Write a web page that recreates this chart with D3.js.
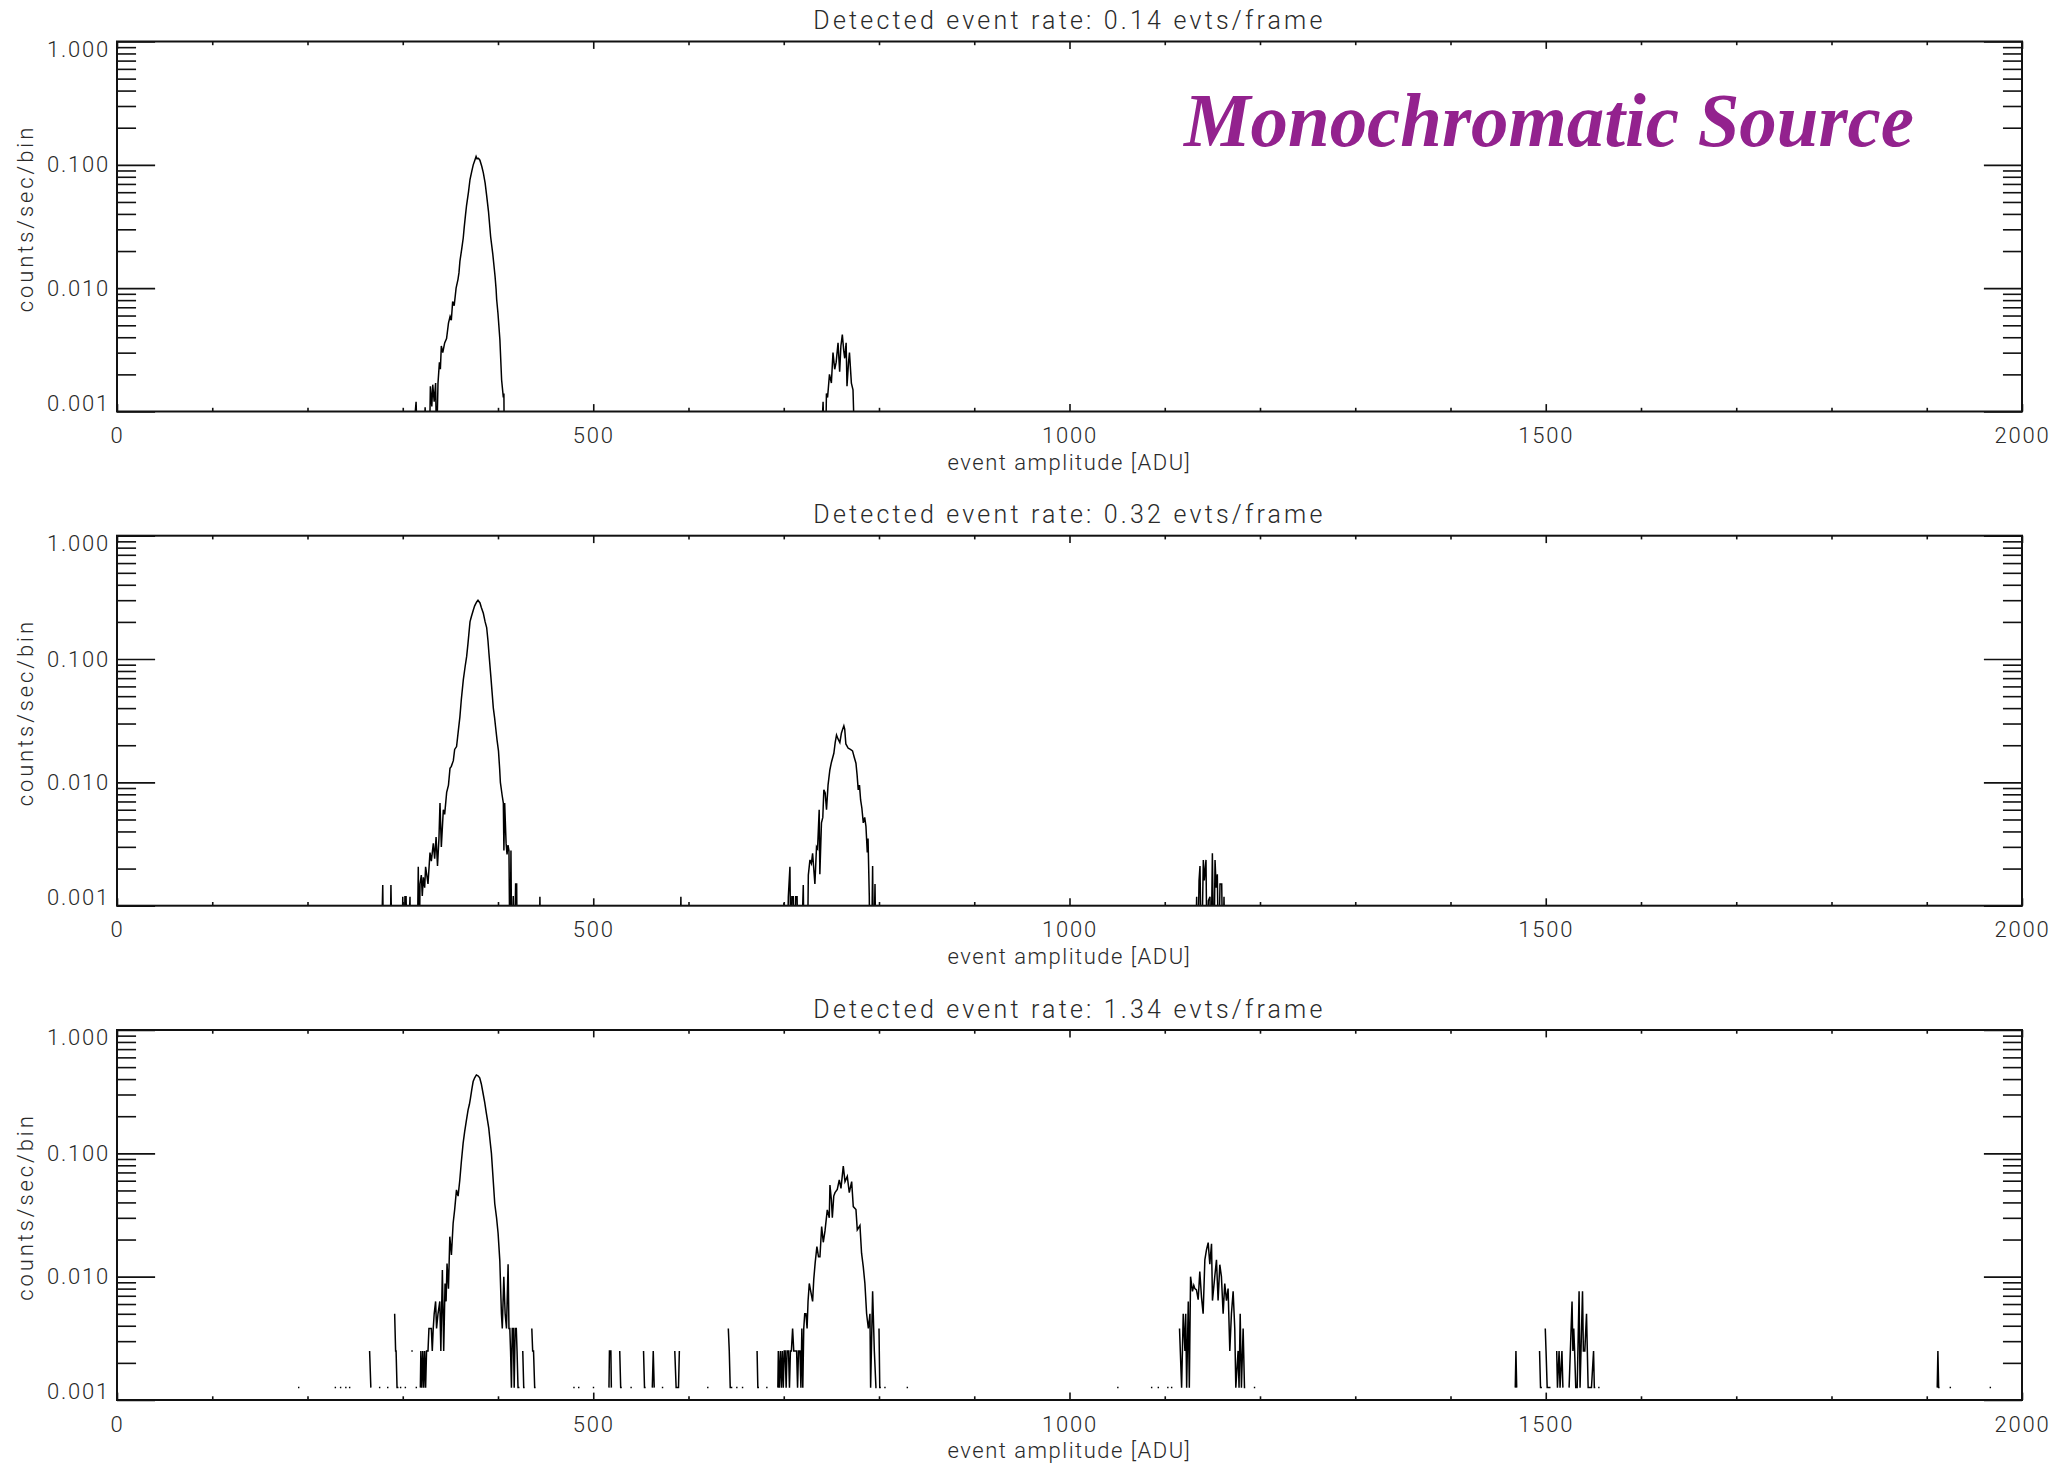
<!DOCTYPE html>
<html>
<head>
<meta charset="utf-8">
<script src="https://cdn.jsdelivr.net/npm/d3@7"></script>
<style>
  body { margin: 0; background: #fff; }
  svg text { font-family: Roboto, "DejaVu Sans", sans-serif; font-weight: 300; fill: #2a2a2a; }
</style>
</head>
<body>
<div id="chart"></div>
<script>
// panel titles
const titles = [
  "Detected event rate: 0.14 evts/frame",
  "Detected event rate: 0.32 evts/frame",
  "Detected event rate: 1.34 evts/frame"
];
const yTicks = [0.001, 0.01, 0.1, 1];
const yTickLabels = ["0.001", "0.010", "0.100", "1.000"];
const xTicks = [0, 500, 1000, 1500, 2000];

// [amplitude ADU, counts/sec/bin] ; null = empty bin (gap)
// values under 0.001 are below the plot floor and get clipped
const panel1 = [
  [310, 0.0005], [314, 0.0012], [315.5, 0.0005], [322, 0.0005], [323.5, 0.00108], [325, 0.0005],
  [328, 0.0005], [329, 0.0016], [330.5, 0.0011], [331.5, 0.00165], [333, 0.0012], [334.5, 0.0017],
  [335.5, 0.0005], [337, 0.0017], [338.5, 0.0025], [339.5, 0.0022], [340.5, 0.0034], [342, 0.003],
  [344, 0.0036], [346, 0.0039], [348, 0.0052], [349.7, 0.0059], [351, 0.0055], [352.4, 0.0078],
  [354, 0.0072], [356, 0.0100], [358, 0.0118], [359, 0.0133], [360, 0.0165], [362, 0.021],
  [363.5, 0.0255], [364.5, 0.031], [366, 0.04], [367, 0.047], [369, 0.060], [370.6, 0.076],
  [372.5, 0.089], [374, 0.100], [375.5, 0.108], [377, 0.117], [378, 0.112], [379.5, 0.113],
  [381, 0.109], [383, 0.097], [384.6, 0.086], [386.5, 0.071], [388, 0.057], [390, 0.042],
  [392.3, 0.026], [394.5, 0.019], [396.9, 0.0125], [398, 0.0098], [398.6, 0.0081], [400, 0.0062],
  [402, 0.0038], [403.8, 0.0018], [405.6, 0.0013], [406.2, 0.0014], [406.6, 0.0005],
  null,
  [739, 0.0005], [741.3, 0.0012], [742.5, 0.0005], [744, 0.0005], [744.8, 0.0014], [746, 0.0013],
  [748, 0.002], [750, 0.0017], [751.7, 0.003], [753.5, 0.0022], [755, 0.0025], [757, 0.0036],
  [758.7, 0.0021], [760, 0.0034], [761.5, 0.0042], [763, 0.0031], [764, 0.0027], [765.5, 0.0036],
  [766.4, 0.0016], [768, 0.0025], [769, 0.003], [771, 0.0017], [772.7, 0.0015], [774.5, 0.0005]
];

const panel2 = [
  [277, 0.0003], [279, 0.00147], [280, 0.0003], [286.5, 0.0003], [287.6, 0.00147], [289, 0.0003],
  [299, 0.0003], [300, 0.00118], [301, 0.0003], [302.3, 0.00118], [303.5, 0.00118], [305, 0.0003],
  [307.6, 0.00118], [308.5, 0.0003], [315, 0.0003], [316.3, 0.00207], [317.3, 0.0003], [318.1, 0.0015],
  [319.5, 0.00177], [320.5, 0.0012], [321.6, 0.0017], [323, 0.0014], [324, 0.00207], [325.1, 0.0018],
  [326.5, 0.0015], [328.6, 0.0027], [330, 0.0023], [332.1, 0.0032], [333.5, 0.0024], [335, 0.0036],
  [336.5, 0.0021], [338, 0.0035], [339.1, 0.0068], [340.5, 0.003], [342.6, 0.006], [344, 0.0055],
  [346.1, 0.0083], [348, 0.0095], [349.6, 0.013], [351, 0.0135], [353.1, 0.015], [354.5, 0.0185],
  [356.5, 0.0195], [358.3, 0.026], [360, 0.034], [361.5, 0.047], [363.6, 0.068], [365.5, 0.087],
  [367.1, 0.105], [368.5, 0.134], [370.6, 0.2], [372, 0.22], [374.1, 0.25], [375.5, 0.27],
  [377.6, 0.29], [379, 0.3], [381.1, 0.285], [382.5, 0.262], [384.6, 0.235], [386.5, 0.2],
  [388.1, 0.18], [389.5, 0.14], [390.5, 0.111], [392.5, 0.072], [395.1, 0.04], [396.5, 0.033],
  [397.5, 0.028], [399, 0.022], [400.5, 0.018], [401.7, 0.013], [402.5, 0.010], [404.3, 0.0079],
  [405.6, 0.0068], [406.2, 0.0028], [407, 0.0068], [408.5, 0.0032], [409.5, 0.0026], [410.5, 0.0031],
  [411.5, 0.0028], [412.6, 0.0003], [413.6, 0.0028], [414.5, 0.0003], [416, 0.0012], [417, 0.0003],
  [418.5, 0.0015], [419.6, 0.0015], [420.3, 0.0003],
  null,
  [443, 0.0003], [444, 0.00118], [445, 0.0003],
  null,
  [591, 0.0003], [592, 0.00118], [593, 0.0003],
  null,
  [699, 0.0003], [700.2, 0.00105], [701.5, 0.0003], [703.5, 0.0003], [704.8, 0.00118], [706.5, 0.00207],
  [707.5, 0.0003], [708.5, 0.00118], [710, 0.00118], [711, 0.0003], [712.5, 0.00118], [714, 0.00118],
  [715, 0.0003], [718, 0.0003], [720.5, 0.00147], [721.5, 0.0003], [724.7, 0.0003], [725.8, 0.00177],
  [727.5, 0.00235], [729, 0.0022], [730.3, 0.00266], [732.7, 0.0015], [734.4, 0.003], [735.5, 0.0029],
  [737.2, 0.006], [737.9, 0.0018], [739.6, 0.0047], [741, 0.0052], [742.1, 0.0087], [743.5, 0.0082],
  [744.9, 0.006], [746.5, 0.0095], [748.4, 0.0126], [750, 0.0145], [752.6, 0.0172], [754, 0.021],
  [755.4, 0.0242], [757, 0.0225], [758.9, 0.021], [760.5, 0.025], [761.5, 0.0265], [763.1, 0.0287],
  [764, 0.027], [765.2, 0.0205], [767.7, 0.0189], [770, 0.0185], [772.2, 0.018], [774, 0.016],
  [775.8, 0.0143], [777, 0.0115], [778.2, 0.0087], [779.5, 0.0095], [780.7, 0.0072], [782, 0.0062],
  [783.5, 0.0047], [785, 0.0052], [786.3, 0.0044], [787.7, 0.0027], [788.5, 0.0035], [789.8, 0.0012],
  [790.5, 0.0003], [792, 0.0003], [793.3, 0.0021], [794.3, 0.0003], [795.8, 0.0015], [797, 0.0003],
  null,
  [1132, 0.0003], [1133.5, 0.00118], [1134.5, 0.0003], [1136, 0.0016], [1137, 0.0021], [1138.5, 0.0003],
  [1140.5, 0.00235], [1141.5, 0.0016], [1143.3, 0.00235], [1144.5, 0.0003], [1145.8, 0.0011],
  [1147.5, 0.00118], [1148.5, 0.0003], [1150, 0.00266], [1151.5, 0.0003], [1152.8, 0.00235],
  [1154, 0.0014], [1155.2, 0.0018], [1156.5, 0.0003], [1158, 0.0015], [1159.8, 0.0015],
  [1161, 0.0003], [1162.2, 0.00118], [1163.5, 0.0003]
];

const panel3 = [
  [190, 0.00126], [191.5, 0.00126], null,
  [228.5, 0.00126], [230, 0.00126], null,
  [234, 0.00126], [235.5, 0.00126], null,
  [239.5, 0.00126], [241, 0.00126], null,
  [243.5, 0.00126], [245, 0.00126], null,
  [265.2, 0.0025], [266.5, 0.00126], null,
  [275, 0.00126], [276.5, 0.00126], null,
  [283.5, 0.00126], [285, 0.00126], null,
  [291.5, 0.005], [292.5, 0.0025], [293, 0.0025], [294, 0.00126], [295.5, 0.00126], null,
  [297, 0.00126], [298.5, 0.00126], null,
  [302, 0.00126], [303.5, 0.00126], null,
  [309, 0.0025], [310.5, 0.0025], null,
  [313.5, 0.00126], [315, 0.00126], null,
  [318.5, 0.00126], [319, 0.0025], [320, 0.00126], [321, 0.0025], [322, 0.00126], [323, 0.0025],
  [324, 0.00126], [325, 0.0025], [326.5, 0.0025], [327.5, 0.0038], [329, 0.0038], [330, 0.0038],
  [331, 0.0025], [332, 0.0038], [333, 0.005], [334.5, 0.0063], [335.5, 0.0038], [337, 0.005],
  [338.9, 0.0063], [340, 0.0025], [341.6, 0.0113], [343, 0.0025], [344.4, 0.0088], [345.5, 0.0063],
  [346.5, 0.0128], [348, 0.008], [349.4, 0.0211], [351.1, 0.015], [352.9, 0.0271], [354.5, 0.035],
  [356.4, 0.0505], [358.1, 0.045], [359.9, 0.0608], [361.5, 0.085], [363.4, 0.121], [365, 0.15],
  [366.9, 0.187], [368.6, 0.225], [370, 0.25], [371.1, 0.28], [372.5, 0.33], [373.9, 0.382],
  [375.5, 0.41], [377.3, 0.432], [379, 0.425], [380.8, 0.41], [382.5, 0.365], [384.3, 0.307],
  [386, 0.26], [387.8, 0.211], [390.3, 0.16], [391.5, 0.13], [393.1, 0.1], [395, 0.06],
  [396.6, 0.039], [398.5, 0.03], [400.1, 0.0225], [401.9, 0.0135], [403.6, 0.005], [404.5, 0.0038],
  [406.1, 0.01], [407.5, 0.005], [408.9, 0.0038], [410.6, 0.0126], [411.5, 0.0038], [412.4, 0.0038],
  [413.2, 0.0025], [414.1, 0.00126], [415, 0.0038], [416, 0.0038], [417, 0.00126], [418, 0.0038],
  [419.2, 0.0038], [420, 0.0025], [421, 0.00126], [422.5, 0.00126], null,
  [426, 0.0025], [427, 0.00126], [428, 0.00126], null,
  [435.5, 0.0038], [436.4, 0.0025], [437.3, 0.0025], [438.5, 0.00126], [439.5, 0.00126], null,
  [479, 0.00126], [480.5, 0.00126], null,
  [484, 0.00126], [485.5, 0.00126], null,
  [499.5, 0.00126], [501, 0.00126], null,
  [516.5, 0.00126], [517, 0.0025], [518.5, 0.0025], [519, 0.00126], null,
  [527.8, 0.0025], [528.8, 0.00126], [530, 0.00126], null,
  [539, 0.00126], [540.5, 0.00126], null,
  [552.8, 0.0025], [553.8, 0.00126], [555, 0.00126], null,
  [562, 0.00126], [563, 0.0025], [564, 0.00126], null,
  [572, 0.00126], [573.5, 0.00126], null,
  [585.6, 0.0025], [587, 0.00126], [589.5, 0.00126], [590.4, 0.0025], null,
  [619.5, 0.00126], [621, 0.00126], null,
  [641.8, 0.0038], [642.8, 0.0025], [643.8, 0.00126], [646, 0.00126], null,
  [650, 0.00126], [651.5, 0.00126], null,
  [656, 0.00126], [657.5, 0.00126], null,
  [672, 0.0025], [672.8, 0.00126], [674, 0.00126], null,
  [681.5, 0.00126], [683, 0.00126], null,
  [693.8, 0.00126], [694.3, 0.0025], [695.3, 0.00126], [696.5, 0.0025], [697.5, 0.00126], [698.5, 0.0025],
  [699.5, 0.00126], [700.5, 0.0025], [701.5, 0.0025], [702.5, 0.00126], [703.5, 0.0025], [705, 0.0025],
  [706, 0.00126], [707, 0.0025], [708, 0.0025], [709.3, 0.0038], [710.5, 0.0025], [712, 0.0025],
  [713.5, 0.0025], [714.5, 0.00126], [715.5, 0.0025], [717, 0.0025], [718, 0.00126], [719, 0.0038],
  [720, 0.00126], [721, 0.0038], [722, 0.005], [723.3, 0.005], [724.5, 0.0038], [725.5, 0.0063],
  [726.8, 0.0088], [728.5, 0.0075], [730.3, 0.0063], [731.5, 0.0095], [733, 0.013], [734.8, 0.0175],
  [736.5, 0.0145], [738, 0.0145], [739.8, 0.0255], [741.5, 0.019], [743.3, 0.0235], [745.7, 0.0348],
  [747.8, 0.030], [748.5, 0.0554], [750, 0.042], [751, 0.030], [752.5, 0.045], [753.8, 0.048],
  [756.2, 0.051], [758.3, 0.061], [760.1, 0.052], [762.5, 0.079], [764.3, 0.059], [766.7, 0.065],
  [768.8, 0.048], [771.3, 0.059], [773, 0.037], [775.8, 0.035], [777.2, 0.024], [780, 0.026],
  [781.7, 0.0155], [783.5, 0.012], [785.2, 0.0088], [787, 0.005], [788.8, 0.0038], [790.5, 0.005],
  [791.2, 0.00126], [793.3, 0.0076], [795.1, 0.0025], [796.8, 0.00126], [797.5, 0.00126], null,
  [800, 0.0038], [800.8, 0.00126], [802, 0.00126], null,
  [805.5, 0.00126], [807, 0.00126], null,
  [829, 0.00126], [830.5, 0.00126], null,
  [1050, 0.00126], [1051.5, 0.00126], null,
  [1085.5, 0.00126], [1087, 0.00126], null,
  [1092.5, 0.00126], [1094, 0.00126], null,
  [1102.5, 0.00126], [1104, 0.00126], null,
  [1106.5, 0.00126], [1108, 0.00126], null,
  [1115.5, 0.0038], [1117.7, 0.00126], [1119.4, 0.005], [1121.2, 0.0025], [1122, 0.005], [1123, 0.00126],
  [1124.7, 0.0063], [1125.8, 0.00126], [1127.1, 0.01], [1129.1, 0.0076], [1130.5, 0.0085], [1131.6, 0.008],
  [1133.3, 0.0078], [1135.1, 0.0065], [1136.8, 0.011], [1138.6, 0.0068], [1140.3, 0.005], [1142.1, 0.0137],
  [1143.8, 0.0165], [1145.6, 0.0189], [1147.3, 0.0126], [1149.1, 0.0185], [1150.1, 0.0064], [1152.5, 0.01],
  [1154.3, 0.0137], [1156, 0.0064], [1157.8, 0.0125], [1159.5, 0.01], [1161.3, 0.005], [1163, 0.0088],
  [1164.8, 0.0064], [1166.5, 0.008], [1168.3, 0.0025], [1170, 0.005], [1171.8, 0.0076], [1173.5, 0.0038],
  [1174.6, 0.00126], [1177, 0.0025], [1178, 0.00126], [1179.2, 0.005], [1180.5, 0.00126], [1182.3, 0.0038],
  [1183.7, 0.00126], [1184.5, 0.00126], null,
  [1193.5, 0.00126], [1195, 0.00126], null,
  [1468, 0.00126], [1468.7, 0.0025], [1469.5, 0.00126], null,
  [1493.5, 0.0025], [1494.5, 0.00126], [1496, 0.00126], null,
  [1499.5, 0.0038], [1500.3, 0.0025], [1501.5, 0.00126], [1503, 0.00126], [1505, 0.00126], null,
  [1511.5, 0.0025], [1512.3, 0.00126], [1514, 0.0025], [1515, 0.00126], [1517, 0.0025], [1518, 0.00126], null,
  [1524.5, 0.00126], [1527.6, 0.0063], [1528.5, 0.0025], [1529.4, 0.0038], [1530.3, 0.0025], [1531.5, 0.00126],
  [1533, 0.00126], [1535, 0.0076], [1536, 0.00126], [1537, 0.0025], [1538.6, 0.0076], [1539.5, 0.0025],
  [1541, 0.0025], [1542.8, 0.005], [1544.5, 0.00126], [1546, 0.00126], [1548, 0.00126], [1550.2, 0.0025],
  [1551, 0.00126], [1552, 0.00126], null,
  [1555, 0.00126], [1556.5, 0.00126], null,
  [1911, 0.00126], [1911.7, 0.0025], [1912.5, 0.00126], [1913.5, 0.00126], null,
  [1924, 0.00126], [1925.5, 0.00126], null,
  [1966, 0.00126], [1967.5, 0.00126]
];

const panels = [panel1, panel2, panel3];

const W = 2063, H = 1466;
const margin = { left: 117, right: 41 };
const plotW = W - margin.left - margin.right;
const plotH = 370;
const panelTops = [41.5, 535.7, 1030];

const svg = d3.select('#chart')
  .append('svg')
  .attr('width', W)
  .attr('height', H)
  .attr('viewBox', [0, 0, W, H])

svg.append('rect').attr('width', W).attr('height', H).attr('fill', '#fff')

const x = d3.scaleLinear()
  .domain([0, 2000])
  .range([0, plotW]);

const y = d3.scaleLog()
  .domain([0.001, 1])
  .range([plotH, 0]);

// minor ticks: 2..9 of every decade, and every 100 ADU
const yMinor = [];
[0.001, 0.01, 0.1].forEach(d => { for (let k = 2; k <= 9; k++) yMinor.push(d * k) })
const xMinor = d3.range(0, 2001, 100).filter(v => v % 500 !== 0);

const majorY = 0.02 * plotW, majorX = 0.02 * plotH;

const renderPanel = function(data, i) {
  const g = svg.append('g')
    .attr('transform', `translate(${margin.left}, ${panelTops[i]})`)

  g.append('clipPath')
    .attr('id', `clip${i}`)
    .append('rect')
    .attr('width', plotW)
    .attr('height', plotH)

  const line = d3.line()
    .defined(d => d !== null)
    .x(d => x(d[0]))
    .y(d => y(d[1]))

  g.append('path')
    .datum(data)
    .attr('clip-path', `url(#clip${i})`)
    .attr('fill', 'none')
    .attr('stroke', '#000')
    .attr('stroke-width', 1.5)
    .attr('stroke-linejoin', 'miter')
    .attr('d', line)

  // left axis (labels) and right axis, ticks pointing inward
  const left = g.append('g')
    .call(d3.axisLeft(y).tickValues(yTicks).tickFormat((d, k) => yTickLabels[k]).tickSize(-majorY).tickPadding(7))
  left.selectAll('text')
    .attr('dy', (d, k) => k === 0 ? '-0.05em' : (k === yTicks.length - 1 ? '0.68em' : '0.32em'))
  g.append('g')
    .call(d3.axisLeft(y).tickValues(yMinor).tickFormat('').tickSize(-majorY / 2))
  g.append('g')
    .attr('transform', `translate(${plotW}, 0)`)
    .call(d3.axisRight(y).tickValues(yTicks).tickFormat('').tickSize(-majorY))
  g.append('g')
    .attr('transform', `translate(${plotW}, 0)`)
    .call(d3.axisRight(y).tickValues(yMinor).tickFormat('').tickSize(-majorY / 2))

  // bottom and top axes
  g.append('g')
    .attr('transform', `translate(0, ${plotH})`)
    .call(d3.axisBottom(x).tickValues(xTicks).tickFormat(d3.format('d')).tickSize(-majorX).tickPadding(16))
  g.append('g')
    .attr('transform', `translate(0, ${plotH})`)
    .call(d3.axisBottom(x).tickValues(xMinor).tickFormat('').tickSize(-majorX / 2))
  g.append('g')
    .call(d3.axisTop(x).tickValues(xTicks).tickFormat('').tickSize(-majorX))
  g.append('g')
    .call(d3.axisTop(x).tickValues(xMinor).tickFormat('').tickSize(-majorX / 2))

  g.selectAll('.domain').remove()
  g.selectAll('.tick line').attr('stroke', '#111').attr('stroke-width', 1.6)
  g.selectAll('.tick text')
    .style('font-size', '22px')
    .style('letter-spacing', '1.8px')
    .attr('fill', '#2a2a2a')

  g.append('rect')
    .attr('width', plotW)
    .attr('height', plotH)
    .attr('fill', 'none')
    .attr('stroke', '#111')
    .attr('stroke-width', 2)

  g.append('text')
    .attr('x', plotW / 2)
    .attr('y', -12.5)
    .attr('text-anchor', 'middle')
    .style('font-size', '25px')
    .style('letter-spacing', '3.2px')
    .text(titles[i])

  g.append('text')
    .attr('x', x(1000))
    .attr('y', plotH + 58)
    .attr('text-anchor', 'middle')
    .style('font-size', '22px')
    .style('letter-spacing', '1.5px')
    .text('event amplitude [ADU]')

  g.append('text')
    .attr('transform', `translate(${33 - margin.left}, ${plotH / 2 - 8}) rotate(-90)`)
    .attr('text-anchor', 'middle')
    .style('font-size', '22px')
    .style('letter-spacing', '2.9px')
    .text('counts/sec/bin')
}

panels.forEach((p, i) => renderPanel(p, i))

svg.append('text')
  .attr('x', 1184)
  .attr('y', 146)
  .attr('textLength', 730)
  .attr('lengthAdjust', 'spacingAndGlyphs')
  .style('font-family', '"Liberation Serif", "Times New Roman", serif')
  .style('font-weight', 'bold')
  .style('font-style', 'italic')
  .style('font-size', '76px')
  .style('fill', '#93228e')
  .text('Monochromatic Source')
</script>
</body>
</html>
